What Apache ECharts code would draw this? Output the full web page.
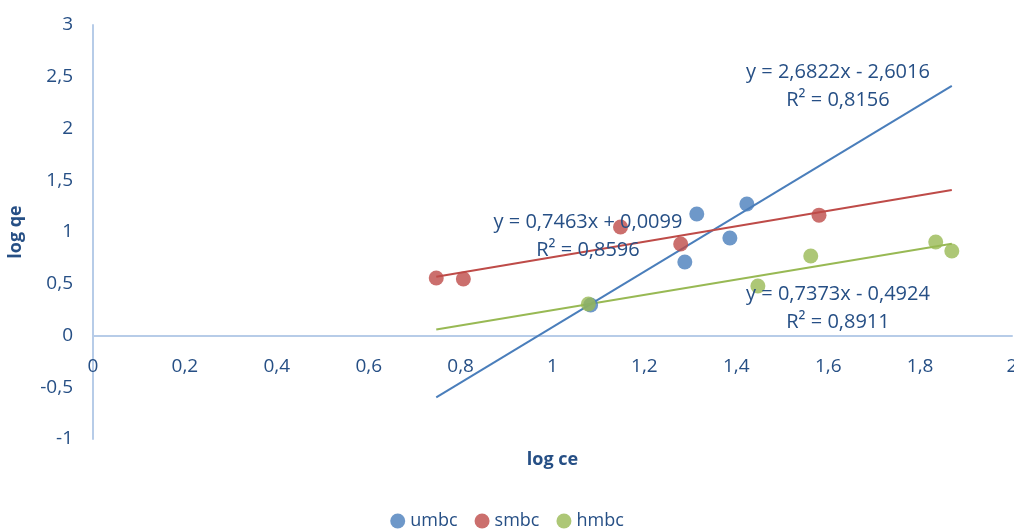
<!DOCTYPE html>
<html>
<head>
<meta charset="utf-8">
<script src="https://cdn.jsdelivr.net/npm/echarts@6/dist/echarts.min.js"></script>
<style>
  html, body { margin: 0; padding: 0; background: #fff; }
  #chart { width: 1014px; height: 532px; }
</style>
</head>
<body>
<div id="chart"></div>
<script>
// Measured points (log ce, log qe) for each adsorbent
const umbcX = [1.083, 1.288, 1.314, 1.386, 1.423];
const umbcY = [0.295, 0.710, 1.174, 0.942, 1.271];
const smbcX = [0.747, 0.806, 1.148, 1.279, 1.580];
const smbcY = [0.556, 0.546, 1.048, 0.884, 1.163];
const hmbcX = [1.078, 1.447, 1.562, 1.834, 1.869];
const hmbcY = [0.304, 0.478, 0.768, 0.903, 0.816];

// Linear fits: [slope, intercept, R²]
const umbcFit = [2.6822, -2.6016, 0.8156];
const smbcFit = [0.7463, 0.0099, 0.8596];
const hmbcFit = [0.7373, -0.4924, 0.8911];

const seriesNames = ['umbc', 'smbc', 'hmbc'];
const colors = ['#4A7EBB', '#BE4B48', '#98B954'];

const TEXT = '#264F85';
const FONT = 'Open Sans';

const fmt = v => String(Number(v.toFixed(2))).replace('.', ',');
const fmt4 = v => Math.abs(v).toFixed(4).replace('.', ',');

const allX = umbcX.concat(smbcX, hmbcX);
const xLo = Math.min(...allX), xHi = Math.max(...allX);

function pairs(xs, ys) { return xs.map((x, i) => [x, ys[i]]); }
function fitLine(f) { return [[xLo, f[0] * xLo + f[1]], [xHi, f[0] * xHi + f[1]]]; }
function eqText(f) {
  const sign = f[1] < 0 ? ' - ' : ' + ';
  return 'y = ' + fmt4(f[0]) + 'x' + sign + fmt4(f[1]) + '\nR² = ' + fmt4(f[2]);
}

const groups = [[umbcX, umbcY, umbcFit], [smbcX, smbcY, smbcFit], [hmbcX, hmbcY, hmbcFit]];
const series = [];
groups.forEach((g, i) => {
  series.push({
    name: seriesNames[i] + ' trend', type: 'line', data: fitLine(g[2]),
    symbol: 'none', silent: true, z: 1,
    lineStyle: { color: colors[i], width: 2 }
  });
});
groups.forEach((g, i) => {
  series.push({
    name: seriesNames[i], type: 'scatter', data: pairs(g[0], g[1]),
    symbol: 'circle', symbolSize: 15, z: 3,
    itemStyle: { color: colors[i] }
  });
});

// Equation label anchors (centre x, top y)
const eqPos = [[838, 58], [588, 208], [838, 280]];

const chart = echarts.init(document.getElementById('chart'), null, { renderer: 'canvas' });
const option = {
  backgroundColor: '#fff',
  animation: false,
  textStyle: { fontFamily: FONT },
  grid: { left: 93, right: 2, top: 25, bottom: 93, containLabel: false, outerBoundsMode: 'none' },
  xAxis: {
    type: 'value', min: 0, max: 2, interval: 0.2,
    name: 'log ce', nameLocation: 'middle', nameGap: 115, nameMoveOverlap: false,
    nameTextStyle: { color: TEXT, fontSize: 18, fontWeight: 'bold', fontFamily: FONT },
    axisLine: { onZero: false, lineStyle: { color: '#B7CCE8', width: 2 } },
    axisTick: { show: false },
    splitLine: { show: false },
    axisLabel: { color: TEXT, fontSize: 19, margin: 22, formatter: fmt, showMaxLabel: true }
  },
  yAxis: {
    type: 'value', min: -1, max: 3, interval: 0.5,
    name: 'log qe', nameLocation: 'middle', nameGap: 68, nameRotate: 90,
    nameTextStyle: { color: TEXT, fontSize: 18, fontWeight: 'bold', fontFamily: FONT },
    axisLine: { lineStyle: { color: '#B7CCE8', width: 2 } },
    axisTick: { show: false },
    splitLine: { show: false },
    axisLabel: { color: TEXT, fontSize: 19, margin: 20, formatter: fmt }
  },
  legend: {
    data: seriesNames, bottom: -3, left: 'center', icon: 'circle',
    itemWidth: 15, itemHeight: 15, itemGap: 17,
    textStyle: { color: TEXT, fontSize: 18, fontFamily: FONT }
  },
  graphic: groups.map((g, i) => ({
    type: 'text', x: eqPos[i][0], y: eqPos[i][1], z: 10,
    style: {
      text: eqText(g[2]), textAlign: 'center', textVerticalAlign: 'top',
      fill: TEXT, font: '20px "' + FONT + '"', lineHeight: 28
    }
  })),
  series: series
};
chart.setOption(option);

// Move the x axis (line and labels) up so it crosses the y axis at zero
const yZero = chart.convertToPixel({ yAxisIndex: 0 }, 0);
const yMin = chart.convertToPixel({ yAxisIndex: 0 }, -1);
chart.setOption({ xAxis: { offset: yZero - yMin } });
</script>
</body>
</html>
